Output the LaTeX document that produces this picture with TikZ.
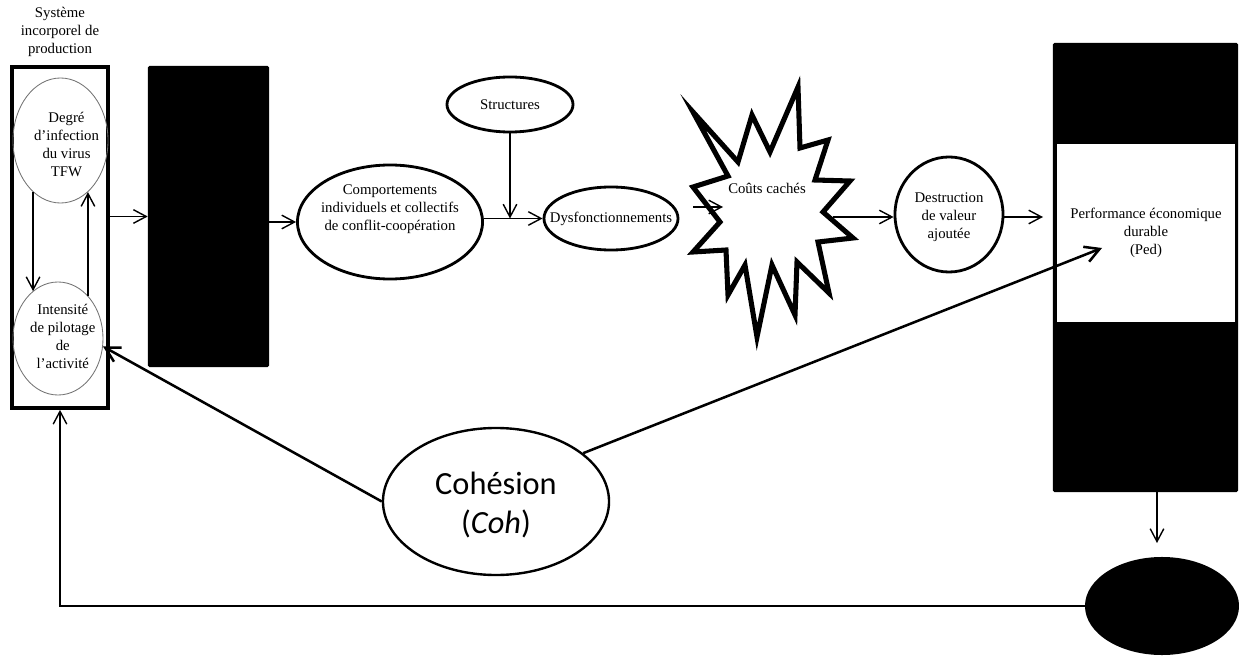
\documentclass[tikz,border=0pt]{standalone}
\usepackage{fontspec}
\setmainfont{Liberation Serif}
\newfontfamily\cohfont{Carlito}
\usetikzlibrary{shapes.geometric,arrows.meta}

\tikzset{
  texte/.style={font=\fontsize{10.5}{12.8}\selectfont, align=center},
  ovale/.style={draw, ellipse, line width=2pt, inner sep=0pt},
  ovale fin/.style={draw=black!55, ellipse, line width=0.6pt, inner sep=0pt},
  bloc noir/.style={fill=black, rounded corners=1pt, inner sep=0pt},
  fleche/.style={-{Straight Barb[length=3.2mm,width=3.4mm]}, line width=1pt},
  fleche epaisse/.style={-{Straight Barb[length=3.6mm,width=4mm]}, line width=1.8pt},
  eclat/.style={line width=3.6pt, line join=miter}
}

\begin{document}
\begin{tikzpicture}[x=0.025cm, y=-0.025cm]
    \useasboundingbox (0,0) rectangle (1239,656);

    % systeme incorporel
    \node (titre) [texte] at (60,32) {Système\\incorporel de\\production};
    \node (systeme) [draw, line width=2.6pt, minimum width=2.4cm, minimum height=8.525cm, inner sep=0pt] at (60,237.5) {};
    \node (degre) [ovale fin, minimum width=2.375cm, minimum height=3.125cm,
        label={[texte, xshift=0.15cm, yshift=-0.11cm]center:{Degré\\d’infection\\du virus\\TFW}}] at (60.5,140.5) {};
    \node (pilotage) [ovale fin, minimum width=2.25cm, minimum height=2.825cm,
        label={[texte, xshift=0.12cm, yshift=0.06cm]center:{Intensité\\de pilotage\\de\\l’activité}}] at (58,338.5) {};
    \draw[fleche] (degre.242) -- (degre.242 |- pilotage.118);
    \draw[fleche] (pilotage.55) -- (pilotage.55 |- degre.298);

    \node (bloc gauche) [bloc noir, minimum width=3.025cm, minimum height=7.525cm] at (208.5,216.5) {};
    \draw[fleche] (systeme.east |- bloc gauche.west) -- (bloc gauche.west);

    % chaine centrale
    \node (comp) [ovale, minimum width=4.625cm, minimum height=2.85cm,
        label={[texte, yshift=0.32cm]center:{Comportements\\individuels et collectifs\\de conflit-coopération}}] at (390,222) {};
    \node (struct) [ovale, minimum width=3.15cm, minimum height=1.375cm,
        label={[texte]center:Structures}] at (510,104.5) {};
    \node (dysf) [ovale, minimum width=3.35cm, minimum height=1.575cm,
        label={[texte]center:Dysfonctionnements}] at (611,218.5) {};
    \draw[fleche] (bloc gauche.east |- comp.west) -- (comp.west);
    \draw[fleche] (comp.east |- dysf.west) -- (dysf.west);
    \coordinate (jonction) at (struct.south |- dysf.west);
    \draw[fleche] (struct.south) -- (jonction);

    % couts caches
    \draw[eclat] (693,112) -- (738,162) -- (752,115) -- (770,152) -- (798,87) -- (800,148)
        -- (828,140) -- (815,180) -- (850,181) -- (823,212) -- (853,238) -- (818,242)
        -- (829,293) -- (797,262) -- (795,315) -- (772,265) -- (757,337) -- (745,265)
        -- (728,295) -- (726,250) -- (693,252) -- (720,222) -- (693,187) -- (728,176) -- cycle;
    \node (couts) [texte] at (767,188) {Coûts cachés};
    \coordinate (coutsin) at (723,207);
    \coordinate (coutsout) at (833,217);
    \coordinate (dysfout) at (693,207);
    \draw[fleche] (dysfout) -- (coutsin);

    \node (destr) [ovale, minimum width=2.7cm, minimum height=2.875cm,
        label={[texte, yshift=-0.07cm]center:{Destruction\\de valeur\\ajoutée}}] at (949,214.5) {};
    \draw[fleche] (coutsout) -- (destr.west |- coutsout);

    % performance
    \node (bloc droit) [bloc noir, minimum width=4.625cm, minimum height=11.225cm] at (1145.5,267.5) {};
    \node (ped) [texte, fill=white, minimum width=4.45cm, minimum height=4.45cm] at (1146,233) {Performance économique\\durable\\(Ped)};
    \coordinate (pedin) at (1043,217);
    \draw[fleche] (destr.east |- pedin) -- (pedin);

    \node (ovale noir) [ellipse, fill=black, minimum width=3.85cm, minimum height=2.45cm] at (1162,606) {};
    \coordinate (retour) at (1157,543);
    \draw[fleche] (retour |- bloc droit.south) -- (retour);
    \draw[fleche] (ovale noir.west) -| (systeme.south);

    % cohesion
    \node (coh) [ovale, line width=1.7pt, minimum width=5.65cm, minimum height=3.675cm,
        label={[font=\cohfont\fontsize{23}{28}\selectfont, align=center, yshift=-0.08cm]center:{Cohésion\\(\textit{Coh})}}] at (496,501.5) {};
    \coordinate (pedcible) at (1102,248);
    \draw[fleche epaisse] (coh.west) -- (pilotage.-10);
    \draw[fleche epaisse] (coh.29) -- (pedcible);
\end{tikzpicture}
\end{document}
